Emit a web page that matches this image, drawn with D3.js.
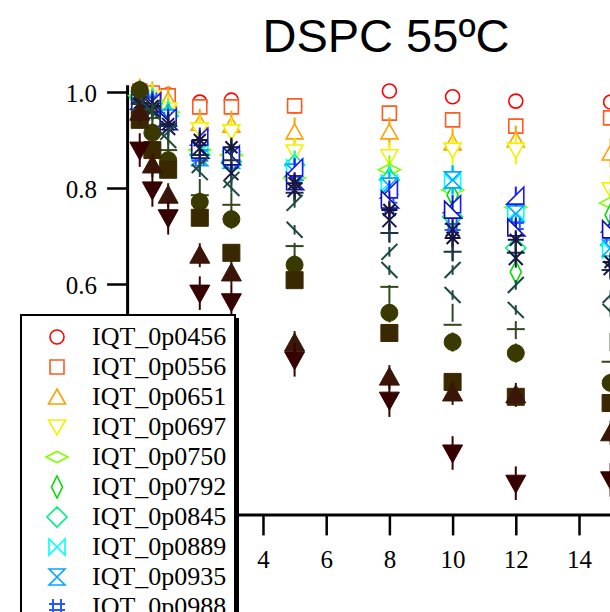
<!DOCTYPE html>
<html>
<head>
<meta charset="utf-8">
<script src="https://cdn.jsdelivr.net/npm/d3@7"></script>
<style>
  html, body { margin: 0; padding: 0; background: #fff; }
  svg { display: block; }
</style>
</head>
<body>
<script>
// Delay times (x) shared by every I(q,t) curve
const delays = [0.1, 0.5, 1, 2, 3, 5, 8, 10, 12, 15];

// Normalised intermediate scattering function, one array per q value
const IQT_0p0456 = [1.004, 0.996, 0.994, 0.979, 0.983, 0.971, 1.002, 0.990, 0.981, 0.979];
const IQT_0p0556 = [1.002, 0.998, 0.992, 0.969, 0.969, 0.971, 0.956, 0.942, 0.929, 0.946];
const IQT_0p0651 = [0.998, 0.992, 0.983, 0.935, 0.931, 0.917, 0.917, 0.894, 0.900, 0.873];
const IQT_0p0697 = [0.996, 0.988, 0.963, 0.921, 0.917, 0.875, 0.865, 0.879, 0.879, 0.796];
const IQT_0p0750 = [0.992, 0.981, 0.958, 0.879, 0.869, 0.821, 0.838, 0.796, 0.760, 0.769];
const IQT_0p0792 = [0.990, 0.977, 0.954, 0.873, 0.858, 0.842, 0.821, 0.785, 0.625, 0.744];
const IQT_0p0845 = [0.988, 0.975, 0.950, 0.869, 0.854, 0.848, 0.817, 0.740, 0.675, 0.681];
const IQT_0p0889 = [0.985, 0.973, 0.946, 0.875, 0.863, 0.842, 0.810, 0.813, 0.750, 0.671];
const IQT_0p0935 = [0.983, 0.971, 0.946, 0.863, 0.858, 0.833, 0.804, 0.817, 0.746, 0.675];
const IQT_0p0988 = [0.983, 0.983, 0.942, 0.863, 0.854, 0.817, 0.763, 0.719, 0.721, 0.702];
const IQT_0p1045 = [0.981, 0.979, 0.946, 0.906, 0.869, 0.842, 0.796, 0.765, 0.783, 0.725];
const IQT_0p1095 = [0.979, 0.975, 0.938, 0.879, 0.865, 0.813, 0.775, 0.754, 0.717, 0.713];
const IQT_0p1146 = [0.977, 0.971, 0.933, 0.900, 0.885, 0.810, 0.754, 0.696, 0.692, 0.646];
const IQT_0p1199 = [0.975, 0.967, 0.929, 0.869, 0.858, 0.790, 0.706, 0.667, 0.665, 0.629];
const IQT_0p1251 = [0.973, 0.963, 0.925, 0.883, 0.831, 0.796, 0.733, 0.713, 0.654, 0.633];
const IQT_0p1302 = [0.973, 0.967, 0.917, 0.848, 0.817, 0.769, 0.667, 0.629, 0.598, 0.577];
const IQT_0p1354 = [0.969, 0.958, 0.900, 0.833, 0.800, 0.713, 0.629, 0.577, 0.546, 0.542];
const IQT_0p1407 = [0.967, 0.952, 0.888, 0.800, 0.771, 0.667, 0.579, 0.540, 0.504, 0.479];
const IQT_0p1460 = [0.963, 0.946, 0.879, 0.785, 0.765, 0.679, 0.594, 0.515, 0.506, 0.438];
const IQT_0p1512 = [1.004, 0.915, 0.858, 0.771, 0.735, 0.640, 0.540, 0.479, 0.456, 0.394];
const IQT_0p1565 = [0.942, 0.879, 0.838, 0.738, 0.665, 0.608, 0.498, 0.396, 0.365, 0.352];
const IQT_0p1617 = [0.958, 0.848, 0.785, 0.660, 0.623, 0.477, 0.406, 0.373, 0.369, 0.290];
const IQT_0p1670 = [0.879, 0.796, 0.738, 0.581, 0.563, 0.442, 0.358, 0.248, 0.185, 0.192];

// Half-width of the error bar of each curve
const IQT_err = [0.008, 0.01, 0.03, 0.03, 0.03, 0.02, 0.03, 0.035, 0.03, 0.02, 0.02, 0.02,
                 0.02, 0.02, 0.02, 0.01, 0.01, 0, 0, 0.02, 0.015, 0.025, 0.035];

const seriesNames = ["IQT_0p0456", "IQT_0p0556", "IQT_0p0651", "IQT_0p0697", "IQT_0p0750",
  "IQT_0p0792", "IQT_0p0845", "IQT_0p0889", "IQT_0p0935", "IQT_0p0988", "IQT_0p1045",
  "IQT_0p1095", "IQT_0p1146", "IQT_0p1199", "IQT_0p1251", "IQT_0p1302", "IQT_0p1354",
  "IQT_0p1407", "IQT_0p1460", "IQT_0p1512", "IQT_0p1565", "IQT_0p1617", "IQT_0p1670"];
const seriesValues = [IQT_0p0456, IQT_0p0556, IQT_0p0651, IQT_0p0697, IQT_0p0750,
  IQT_0p0792, IQT_0p0845, IQT_0p0889, IQT_0p0935, IQT_0p0988, IQT_0p1045,
  IQT_0p1095, IQT_0p1146, IQT_0p1199, IQT_0p1251, IQT_0p1302, IQT_0p1354,
  IQT_0p1407, IQT_0p1460, IQT_0p1512, IQT_0p1565, IQT_0p1617, IQT_0p1670];

const yTicks = [0.6, 0.8, 1.0];
const xTicks = [4, 6, 8, 10, 12, 14];

// Marker look per curve
const markerKinds = ["circleO", "squareO", "triUpO", "triDownO", "diamondWide", "diamondTall",
  "diamond", "bowtie", "hourglass", "hash", "wedgeA", "wedgeB", "asterisk", "plus", "cross",
  "slash", "backslash", "vbar", "hbar", "circleF", "squareF", "triUpF", "triDownF"];
const markerColors = ["#ff0000", "#ff5a20", "#ffa000", "#f2f200", "#80ff00", "#00dd00",
  "#00f080", "#00ffff", "#00a8ff", "#2858ff", "#1a1aff", "#1010b0", "#14143c", "#1c3248",
  "#181848", "#1e4848", "#1e4a40", "#2e4a22", "#34461c", "#3a3a00", "#3a2800", "#3a1608", "#360000"];

const shapes = {
  circleO: "M7,0A7,7 0 1 1 -7,0A7,7 0 1 1 7,0Z",
  squareO: "M-7,-7H7V7H-7Z",
  triUpO: "M0,-8L8.5,7H-8.5Z",
  triDownO: "M0,8L8.5,-7H-8.5Z",
  diamondWide: "M-11,0L0,-5.5L11,0L0,5.5Z",
  diamondTall: "M0,-11L5.5,0L0,11L-5.5,0Z",
  diamond: "M0,-10L10,0L0,10L-10,0Z",
  bowtie: "M-8,-8L-8,8L8,-8L8,8Z",
  hourglass: "M-8,-8L8,-8L-8,8L8,8Z",
  hash: "M-4,-8V8M4,-8V8M-8,-3H8M-8,3H8",
  wedgeA: "M8,-9V8H-9Z",
  wedgeB: "M-8,-9V8H9Z",
  asterisk: "M-8,0H8M0,-8V8M-6,-6L6,6M-6,6L6,-6",
  plus: "M-9,0H9M0,-9V9",
  cross: "M-7,-7L7,7M-7,7L7,-7",
  slash: "M-8,8L8,-8",
  backslash: "M-8,-8L8,8",
  vbar: "M0,-9V9",
  hbar: "M-9,0H9",
  circleF: "M8.5,0A8.5,8.5 0 1 1 -8.5,0A8.5,8.5 0 1 1 8.5,0Z",
  squareF: "M-8.5,-8.5H8.5V8.5H-8.5Z",
  triUpF: "M0,-10L10,8H-10Z",
  triDownF: "M0,10L10,-8H-10Z"
};
const openKinds = new Set(["circleO", "squareO", "triUpO", "triDownO", "diamondWide",
  "diamondTall", "diamond", "bowtie", "hourglass", "wedgeA", "wedgeB"]);
const filledKinds = new Set(["circleF", "squareF", "triUpF", "triDownF"]);

function styleMarker(sel, kind, color) {
  sel.attr("d", shapes[kind]).attr("stroke", color).attr("stroke-linejoin", "miter");
  if (filledKinds.has(kind)) sel.attr("fill", color).attr("stroke-width", 1);
  else if (openKinds.has(kind)) sel.attr("fill", "#fff").attr("stroke-width", 1.6);
  else sel.attr("fill", "none").attr("stroke-width", 2);
}

const W = 610, H = 612;
const svg = d3.select("body").append("svg").attr("width", W).attr("height", H)
  .style("background", "#fff");

const x = d3.scaleLinear().domain([-0.3, 16]).range([127.1, 642.2]);
const y = d3.scaleLinear().domain([0.12, 1.015]).range([514.4, 84.8]);

const serif = "'Liberation Serif', 'Times New Roman', Times, serif";

// Title
svg.append("text")
  .attr("x", 386).attr("y", 52)
  .attr("text-anchor", "middle")
  .attr("font-family", "'Liberation Sans', Arial, Helvetica, sans-serif")
  .attr("font-size", 47)
  .attr("fill", "#000")
  .text("DSPC 55ºC");

// Axes
const yAxis = svg.append("g")
  .attr("transform", `translate(${x(-0.3)},0)`)
  .call(d3.axisLeft(y).tickValues(yTicks).tickFormat(d3.format(".1f"))
    .tickSize(20).tickSizeOuter(0).tickPadding(10));
const xAxis = svg.append("g")
  .attr("transform", `translate(0,${y(0.12)})`)
  .call(d3.axisBottom(x).tickValues(xTicks).tickFormat(d3.format("d"))
    .tickSize(21).tickSizeOuter(0).tickPadding(14));

[yAxis, xAxis].forEach(g => {
  g.select(".domain").attr("stroke", "#000").attr("stroke-width", 3);
  g.selectAll(".tick line").attr("stroke", "#000").attr("stroke-width", 2.5);
  g.selectAll(".tick text").attr("fill", "#000")
    .attr("font-family", serif).attr("font-size", 25);
});
yAxis.selectAll(".tick text").attr("dy", "0.36em");
xAxis.selectAll(".tick text").attr("dy", "0.75em");

// Curves: error bars then markers, later curves drawn on top
const plot = svg.append("g");
seriesValues.forEach((vals, si) => {
  const color = markerColors[si];
  const kind = markerKinds[si];
  const err = IQT_err[si];
  const g = plot.append("g").attr("class", "series");
  const pts = vals.map((v, i) => ({ t: delays[i], v }));
  if (err > 0) {
    g.selectAll("line.err").data(pts).join("line")
      .attr("class", "err")
      .attr("x1", d => x(d.t)).attr("x2", d => x(d.t))
      .attr("y1", d => y(d.v - err)).attr("y2", d => y(d.v + err))
      .attr("stroke", color).attr("stroke-width", 2);
  }
  g.selectAll("path.mk").data(pts).join("path")
    .attr("class", "mk")
    .attr("transform", d => `translate(${x(d.t)},${y(d.v)})`)
    .call(styleMarker, kind, color);
});

// Legend box with drop shadow; it runs past the bottom edge of the page
const legX = 21, legY = 315, legW = 214, rowH = 30;
const legH = seriesNames.length * rowH + 16;
const leg = svg.append("g");
leg.append("rect").attr("x", legX + 4).attr("y", legY + 3)
  .attr("width", legW).attr("height", legH).attr("fill", "#000");
leg.append("rect").attr("x", legX).attr("y", legY)
  .attr("width", legW).attr("height", legH)
  .attr("fill", "#fff").attr("stroke", "#000").attr("stroke-width", 2);

// Only rows that land on the page are laid out
seriesNames.forEach((name, i) => {
  const cy = legY + 22 + i * rowH;
  if (cy - 14 > H) return;
  leg.append("path")
    .attr("transform", `translate(57,${cy})`)
    .call(styleMarker, markerKinds[i], markerColors[i]);
  leg.append("text")
    .attr("x", 92).attr("y", cy + 8)
    .attr("font-family", serif).attr("font-size", 26)
    .attr("fill", "#000")
    .text(name);
});
</script>
</body>
</html>
